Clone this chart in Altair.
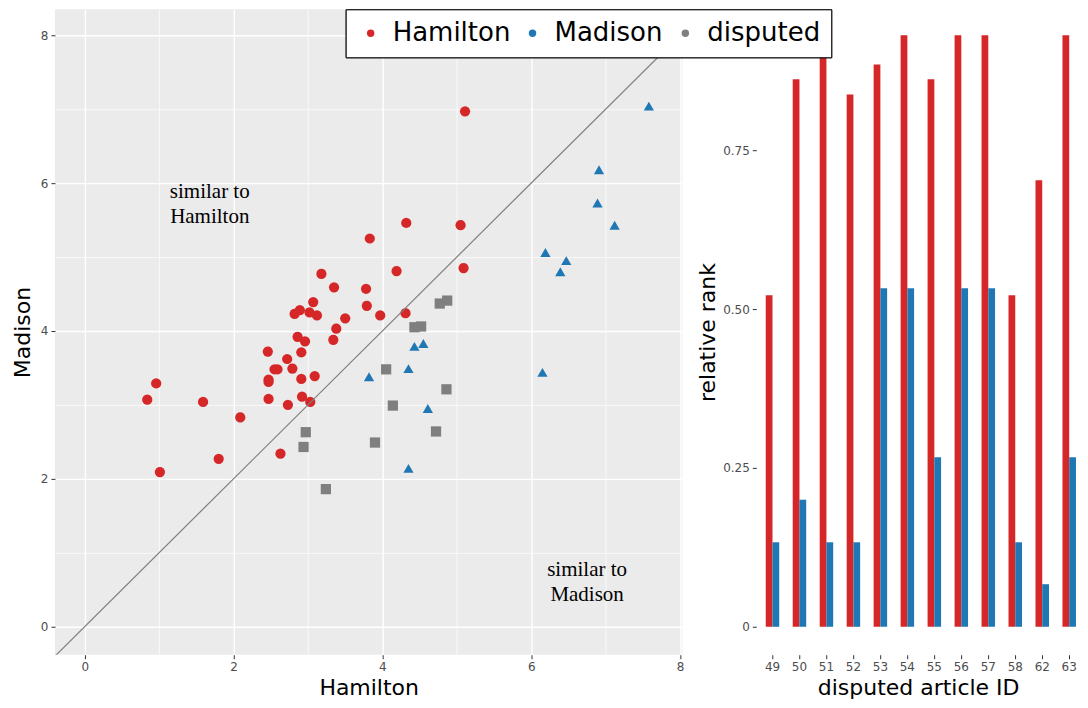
import altair as alt
import pandas as pd

FONT = "DejaVu Sans"

# ---- scatter data (word-usage scores) ----
hamilton_x = [5.11, 4.32, 5.05, 3.83, 5.09, 4.19, 3.18, 3.35, 3.78, 3.07, 2.89, 2.82, 3.02, 3.12,
              3.50, 3.79, 3.97, 4.31, 3.38, 2.86, 2.96, 3.34, 2.46, 2.91, 2.72, 2.55, 2.59, 2.79,
              2.47, 2.47, 2.91, 3.09, 0.96, 0.84, 1.59, 2.47, 2.92, 3.03, 2.73, 2.09, 1.80, 2.63, 1.01]
hamilton_y = [6.97, 5.46, 5.43, 5.25, 4.85, 4.81, 4.77, 4.59, 4.57, 4.39, 4.28, 4.23, 4.25, 4.21,
              4.17, 4.34, 4.21, 4.24, 4.03, 3.92, 3.86, 3.88, 3.72, 3.71, 3.62, 3.48, 3.48, 3.49,
              3.34, 3.31, 3.35, 3.39, 3.29, 3.07, 3.04, 3.08, 3.11, 3.04, 3.00, 2.83, 2.27, 2.34, 2.09]
madison_x = [7.58, 6.91, 6.89, 7.12, 6.19, 6.47, 6.39, 6.15, 4.43, 4.55, 4.35, 3.82, 4.61, 4.35]
madison_y = [7.04, 6.18, 5.73, 5.43, 5.06, 4.95, 4.80, 3.44, 3.79, 3.83, 3.49, 3.38, 2.95, 2.14]
disputed_x = [4.77, 4.87, 4.43, 4.52, 4.05, 4.86, 4.14, 4.72, 2.97, 2.94, 3.90, 3.24]
disputed_y = [4.37, 4.41, 4.05, 4.06, 3.48, 3.21, 2.99, 2.64, 2.63, 2.43, 2.49, 1.86]

groups = ["Hamilton", "Madison", "disputed"]
group_colors = ["#d62728", "#1f77b4", "#7f7f7f"]
group_shapes = ["circle", "triangle-up", "square"]

diag = [-1, 9]

anno_text = ["similar to\nHamilton", "similar to\nMadison"]
anno_x = [1.68, 6.75]
anno_y = [5.88, 0.77]

# ---- bar data ----
article_ids = ["49", "50", "51", "52", "53", "54", "55", "56", "57", "58", "62", "63"]
rank_hamilton = [0.522, 0.862, 0.908, 0.838, 0.885, 0.931, 0.862, 0.931, 0.931, 0.522, 0.703, 0.931]
rank_madison = [0.133, 0.200, 0.133, 0.133, 0.533, 0.533, 0.267, 0.533, 0.533, 0.133, 0.067, 0.267]

rows = []
for g, xs, ys in zip(groups, [hamilton_x, madison_x, disputed_x], [hamilton_y, madison_y, disputed_y]):
    for a, b in zip(xs, ys):
        rows.append({"hamilton": a, "madison": b, "group": g})
scatter_df = pd.DataFrame(rows)
line_df = pd.DataFrame({"hamilton": diag, "madison": diag})
anno_df = pd.DataFrame({"label": anno_text, "hamilton": anno_x, "madison": anno_y})

bar_rows = []
for aid, h, m in zip(article_ids, rank_hamilton, rank_madison):
    bar_rows.append({"article": aid, "author": "Hamilton", "rank": h})
    bar_rows.append({"article": aid, "author": "Madison", "rank": m})
bar_df = pd.DataFrame(bar_rows)

PANEL_H = 646
minor2 = "datum.value % 2 !== 0"
xs_scale = alt.Scale(domain=[-0.40, 8.03], nice=False, zero=False)
ys_scale = alt.Scale(domain=[-0.38, 8.35], nice=False, zero=False)


def sc_axis(title, tpad):
    return alt.Axis(
        title=title,
        titlePadding=tpad,
        values=list(range(9)),
        labelExpr="datum.value % 2 === 0 ? format(datum.value, 'd') : ''",
        gridWidth={"condition": {"test": minor2, "value": 0.7}, "value": 1.4},
        tickOpacity={"condition": {"test": minor2, "value": 0}, "value": 1},
    )


pts = alt.Chart(scatter_df).mark_point(filled=True, opacity=1, size=105).encode(
    x=alt.X("hamilton:Q", scale=xs_scale, axis=sc_axis("Hamilton", 5)),
    y=alt.Y("madison:Q", scale=ys_scale, axis=sc_axis("Madison", 6)),
    color=alt.Color("group:N", scale=alt.Scale(domain=groups, range=group_colors), legend=None),
    shape=alt.Shape("group:N", scale=alt.Scale(domain=groups, range=group_shapes), legend=None),
)

diag_line = alt.Chart(line_df).mark_line(color="#7f7f7f", strokeWidth=1.2, clip=True).encode(
    x=alt.X("hamilton:Q", scale=xs_scale),
    y=alt.Y("madison:Q", scale=ys_scale),
)

anno = alt.Chart(anno_df).mark_text(
    font="Liberation Serif", fontSize=21, lineBreak="\n", lineHeight=25,
    align="center", baseline="middle", color="black",
).encode(
    x=alt.X("hamilton:Q", scale=xs_scale),
    y=alt.Y("madison:Q", scale=ys_scale),
    text="label:N",
)

scatter = alt.layer(pts, diag_line, anno).properties(width=628, height=PANEL_H)

# legend drawn from the bar panel so that it sits on top of both panels
leg = alt.Legend(
    title=None, orient="none", legendX=-411, legendY=0, direction="horizontal",
    labelFontSize=26, labelFont=FONT, labelColor="black", symbolSize=55,
    padding=11, strokeColor="black", fillColor="white", cornerRadius=0,
    columnPadding=8, labelOffset=9, symbolOffset=1,
)

minor_bar = "(datum.value * 8) % 2 === 1"
bar_marks = alt.Chart(bar_df).mark_bar().encode(
    x=alt.X("article:N", sort=article_ids,
            scale=alt.Scale(paddingInner=0.5, paddingOuter=0.25, align=0.7),
            axis=alt.Axis(title="disputed article ID", titlePadding=5, labelAngle=0, bandPosition=0.5)),
    xOffset=alt.XOffset("author:N", sort=["Hamilton", "Madison"],
                        scale=alt.Scale(paddingInner=0, paddingOuter=0)),
    y=alt.Y("rank:Q", scale=alt.Scale(domain=[-0.044, 0.972], nice=False, zero=False),
            axis=alt.Axis(
                title="relative rank",
                titlePadding=3,
                values=[0, 0.125, 0.25, 0.375, 0.5, 0.625, 0.75, 0.875],
                labelExpr="(datum.value * 8) % 2 === 1 ? '' : (datum.value === 0 ? '0' : format(datum.value, '.2f'))",
                gridWidth={"condition": {"test": minor_bar, "value": 0.7}, "value": 1.4},
                tickOpacity={"condition": {"test": minor_bar, "value": 0}, "value": 1},
            )),
    y2=alt.datum(0),
    color=alt.Color("author:N", scale=alt.Scale(domain=["Hamilton", "Madison"],
                                                range=["#d62728", "#1f77b4"]), legend=None),
)

legend_layer = alt.Chart(scatter_df).transform_filter("false").mark_point(
    filled=True, opacity=1, size=105
).encode(
    color=alt.Color("group:N", scale=alt.Scale(domain=groups, range=group_colors), legend=leg),
    shape=alt.Shape("group:N", scale=alt.Scale(domain=groups, range=group_shapes), legend=leg),
)

bars = alt.layer(bar_marks, legend_layer).resolve_scale(
    color="independent"
).properties(width=324, height=PANEL_H)

chart = alt.hconcat(
    scatter, bars, spacing=74, bounds="flush",
    padding={"left": 3, "top": 0, "right": 0, "bottom": 0},
).resolve_scale(
    color="independent", shape="independent"
).configure_view(
    fill="#ebebeb", stroke=None
).configure_axis(
    domain=False, tickColor="#333333", tickSize=4, tickWidth=1,
    labelColor="#4d4d4d", labelFontSize=12, labelFont=FONT, labelPadding=3,
    titleFont=FONT, titleFontSize=22, titleColor="black", titleFontWeight="normal",
    gridColor="white",
)

chart.save("out.html", embed_options={"renderer": "svg", "actions": False})
